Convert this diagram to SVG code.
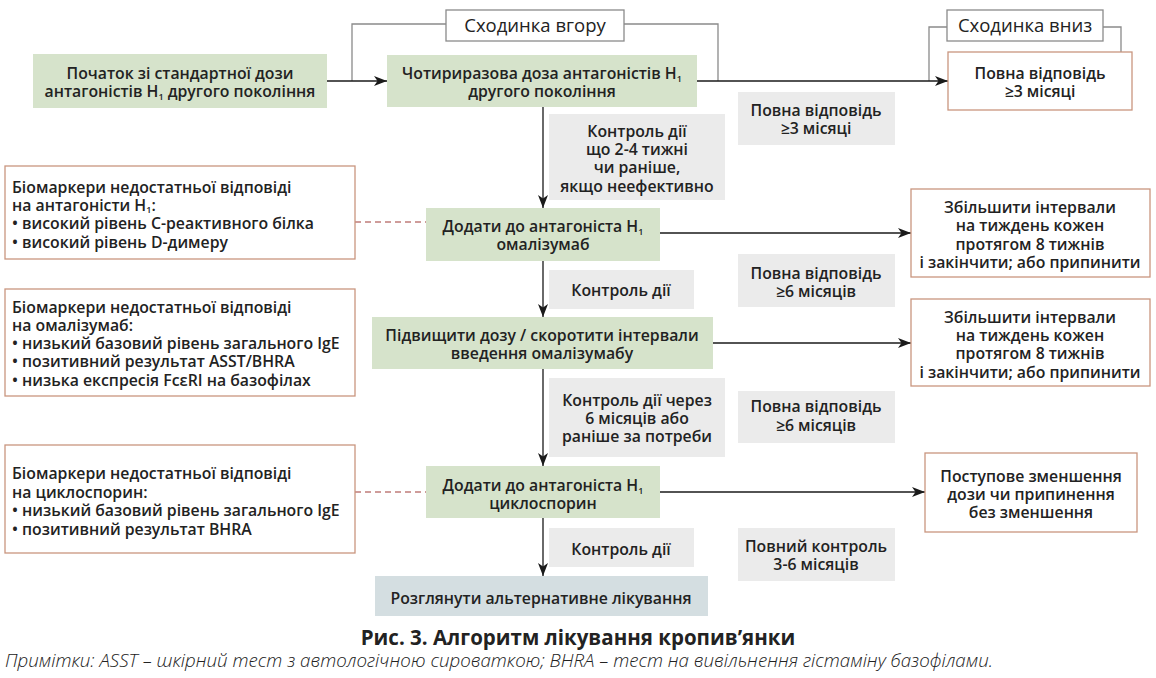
<svg xmlns="http://www.w3.org/2000/svg" width="1156" height="678" viewBox="0 0 1156 678">
<defs>
<marker id="ah" markerWidth="13" markerHeight="10" refX="13" refY="5" orient="auto" markerUnits="userSpaceOnUse"><path d="M0,0 L13,5 L0,10 L3.5,5 z" fill="#1a1a1a"/></marker>
</defs>
<style>
text{font-family:"Open Sans","Noto Sans","DejaVu Sans",sans-serif;font-weight:600;font-size:15.8px;fill:#222}
.c{text-anchor:middle}
.g{fill:#d6e3cb}
.gr{fill:#ebebeb}
.bl{fill:#d4dee1}
.o{fill:#fff;stroke:#c9967f;stroke-width:1.3}
.s{fill:#fff;stroke:#8a8a8a;stroke-width:1.3}
.st{font-size:18.5px;font-weight:500}
.lp{fill:none;stroke:#8a8a8a;stroke-width:1.3}
.ln{fill:none;stroke:#1a1a1a;stroke-width:1.3}
.ar{marker-end:url(#ah)}
.da{fill:none;stroke:#a03a36;stroke-width:1.2;stroke-dasharray:6 4}
.sub{font-size:9px}
.title{font-size:20.5px;font-weight:700}
.note{font-size:18px;font-style:italic;font-weight:300}
</style>
<rect width="1156" height="678" fill="#fff"/>
<g id="connectors">
<polyline class="lp" points="352,81 352,24 446,24"/>
<polyline class="lp" points="624,24 718,24 718,81"/>
<polyline class="lp" points="947,27 929,27 929,81"/>
<polyline class="lp" points="1103,27 1121,27 1121,52"/>
<line class="ln ar" x1="327" y1="81" x2="387" y2="81"/>
<line class="ln ar" x1="697" y1="81" x2="948" y2="81"/>
<line class="ln ar" x1="543" y1="107" x2="543" y2="208"/>
<line class="ln ar" x1="543" y1="261" x2="543" y2="317"/>
<line class="ln ar" x1="543" y1="369" x2="543" y2="466"/>
<line class="ln ar" x1="543" y1="518" x2="543" y2="576"/>
<line class="ln ar" x1="660" y1="233" x2="911" y2="233"/>
<line class="ln ar" x1="713" y1="343" x2="911" y2="343"/>
<line class="ln ar" x1="660" y1="492" x2="925" y2="492"/>
<line class="da" x1="355" y1="222" x2="426" y2="222"/>
<line class="da" x1="355" y1="492" x2="426" y2="492"/>
</g>
<g id="step-up"><rect class="s" x="446" y="10" width="178" height="31"/><text class="c st" x="535" y="32">Сходинка вгору</text></g>
<g id="step-down"><rect class="s" x="947" y="10" width="156" height="31"/><text class="c st" x="1025" y="32">Сходинка вниз</text></g>
<g id="n1"><rect class="g" x="33" y="54" width="294" height="54"/>
<text class="c" x="180" y="78.5">Початок зі стандартної дози</text>
<text class="c" x="180" y="97">антагоністів H<tspan class="sub" dy="3">1</tspan><tspan dy="-3"> другого покоління</tspan></text></g>
<g id="n2"><rect class="g" x="387" y="55" width="310" height="52"/>
<text class="c" x="542" y="78.5">Чотириразова доза антагоністів H<tspan class="sub" dy="3">1</tspan></text>
<text class="c" x="542" y="96.5">другого покоління</text></g>
<g id="r0"><rect class="o" x="948" y="52" width="184" height="58"/>
<text class="c" x="1040" y="78.5">Повна відповідь</text>
<text class="c" x="1040" y="96.5">≥3 місяці</text></g>
<g id="c1"><rect class="gr" x="549" y="114" width="176" height="86"/>
<text class="c" x="637" y="136.5">Контроль дії</text>
<text class="c" x="637" y="154.5">що 2-4 тижні</text>
<text class="c" x="637" y="172.5">чи раніше,</text>
<text class="c" x="637" y="191.5">якщо неефективно</text></g>
<g id="p1"><rect class="gr" x="738" y="92" width="157" height="53"/>
<text class="c" x="816" y="115.5">Повна відповідь</text>
<text class="c" x="816" y="133.5">≥3 місяці</text></g>
<g id="b1"><rect class="o" x="5" y="166" width="350" height="93"/>
<text x="12" y="192.5">Біомаркери недостатньої відповіді</text>
<text x="12" y="210.5">на антагоністи H<tspan class="sub" dy="2.5">1</tspan><tspan dy="-2.5">:</tspan></text>
<text x="12" y="228.5">• високий рівень С-реактивного білка</text>
<text x="12" y="247.5">• високий рівень D-димеру</text></g>
<g id="n3"><rect class="g" x="426" y="208" width="234" height="53"/>
<text class="c" x="543" y="231.5">Додати до антагоніста H<tspan class="sub" dy="3">1</tspan></text>
<text class="c" x="543" y="249.5">омалізумаб</text></g>
<g id="r1"><rect class="o" x="911" y="189" width="239" height="88"/>
<text class="c" x="1030" y="212.5">Збільшити інтервали</text>
<text class="c" x="1030" y="231">на тиждень кожен</text>
<text class="c" x="1030" y="249.5">протягом 8 тижнів</text>
<text class="c" x="1030" y="267.5">і закінчити; або припинити</text></g>
<g id="p2"><rect class="gr" x="738" y="254" width="157" height="53"/>
<text class="c" x="816" y="278.5">Повна відповідь</text>
<text class="c" x="816" y="296.5">≥6 місяців</text></g>
<g id="c2"><rect class="gr" x="549" y="270" width="145" height="39"/>
<text class="c" x="621" y="295.5">Контроль дії</text></g>
<g id="b2"><rect class="o" x="5" y="289" width="350" height="107"/>
<text x="12" y="312.5">Біомаркери недостатньої відповіді</text>
<text x="12" y="330.5">на омалізумаб:</text>
<text x="12" y="348.5">• низький базовий рівень загального IgE</text>
<text x="12" y="366.5">• позитивний результат ASST/BHRA</text>
<text x="12" y="385.5">• низька експресія FcεRI на базофілах</text></g>
<g id="n4"><rect class="g" x="372" y="317" width="341" height="52"/>
<text class="c" x="542" y="340.5">Підвищити дозу / скоротити інтервали</text>
<text class="c" x="542" y="358.5">введення омалізумабу</text></g>
<g id="r2"><rect class="o" x="911" y="299" width="239" height="87"/>
<text class="c" x="1030" y="322.5">Збільшити інтервали</text>
<text class="c" x="1030" y="340.5">на тиждень кожен</text>
<text class="c" x="1030" y="358.5">протягом 8 тижнів</text>
<text class="c" x="1030" y="377.5">і закінчити; або припинити</text></g>
<g id="c3"><rect class="gr" x="549" y="378" width="176" height="79"/>
<text class="c" x="637" y="405.5">Контроль дії через</text>
<text class="c" x="637" y="423.5">6 місяців або</text>
<text class="c" x="637" y="441.5">раніше за потреби</text></g>
<g id="p3"><rect class="gr" x="738" y="391" width="157" height="52"/>
<text class="c" x="816" y="411.5">Повна відповідь</text>
<text class="c" x="816" y="430.5">≥6 місяців</text></g>
<g id="b3"><rect class="o" x="5" y="445" width="350" height="108"/>
<text x="12" y="478.5">Біомаркери недостатньої відповіді</text>
<text x="12" y="497.5">на циклоспорин:</text>
<text x="12" y="515.5">• низький базовий рівень загального IgE</text>
<text x="12" y="534.5">• позитивний результат BHRA</text></g>
<g id="n5"><rect class="g" x="426" y="466" width="234" height="52"/>
<text class="c" x="543" y="490.5">Додати до антагоніста H<tspan class="sub" dy="3">1</tspan></text>
<text class="c" x="543" y="508.5">циклоспорин</text></g>
<g id="r3"><rect class="o" x="925" y="453" width="212" height="79"/>
<text class="c" x="1031" y="481.5">Поступове зменшення</text>
<text class="c" x="1031" y="499.5">дози чи припинення</text>
<text class="c" x="1031" y="517.5">без зменшення</text></g>
<g id="c4"><rect class="gr" x="549" y="528" width="145" height="39"/>
<text class="c" x="621" y="554.5">Контроль дії</text></g>
<g id="p4"><rect class="gr" x="738" y="528" width="157" height="53"/>
<text class="c" x="816" y="551.5">Повний контроль</text>
<text class="c" x="816" y="569.5">3-6 місяців</text></g>
<g id="n6"><rect class="bl" x="375" y="576" width="333" height="40"/>
<text class="c" x="541" y="603.5">Розглянути альтернативне лікування</text></g>
<text class="c title" x="578" y="645">Рис. 3. Алгоритм лікування кропив’янки</text>
<text class="note" x="5" y="667" textLength="988" lengthAdjust="spacingAndGlyphs">Примітки: ASST – шкірний тест з автологічною сироваткою; BHRA – тест на вивільнення гістаміну базофілами.</text>
</svg>
